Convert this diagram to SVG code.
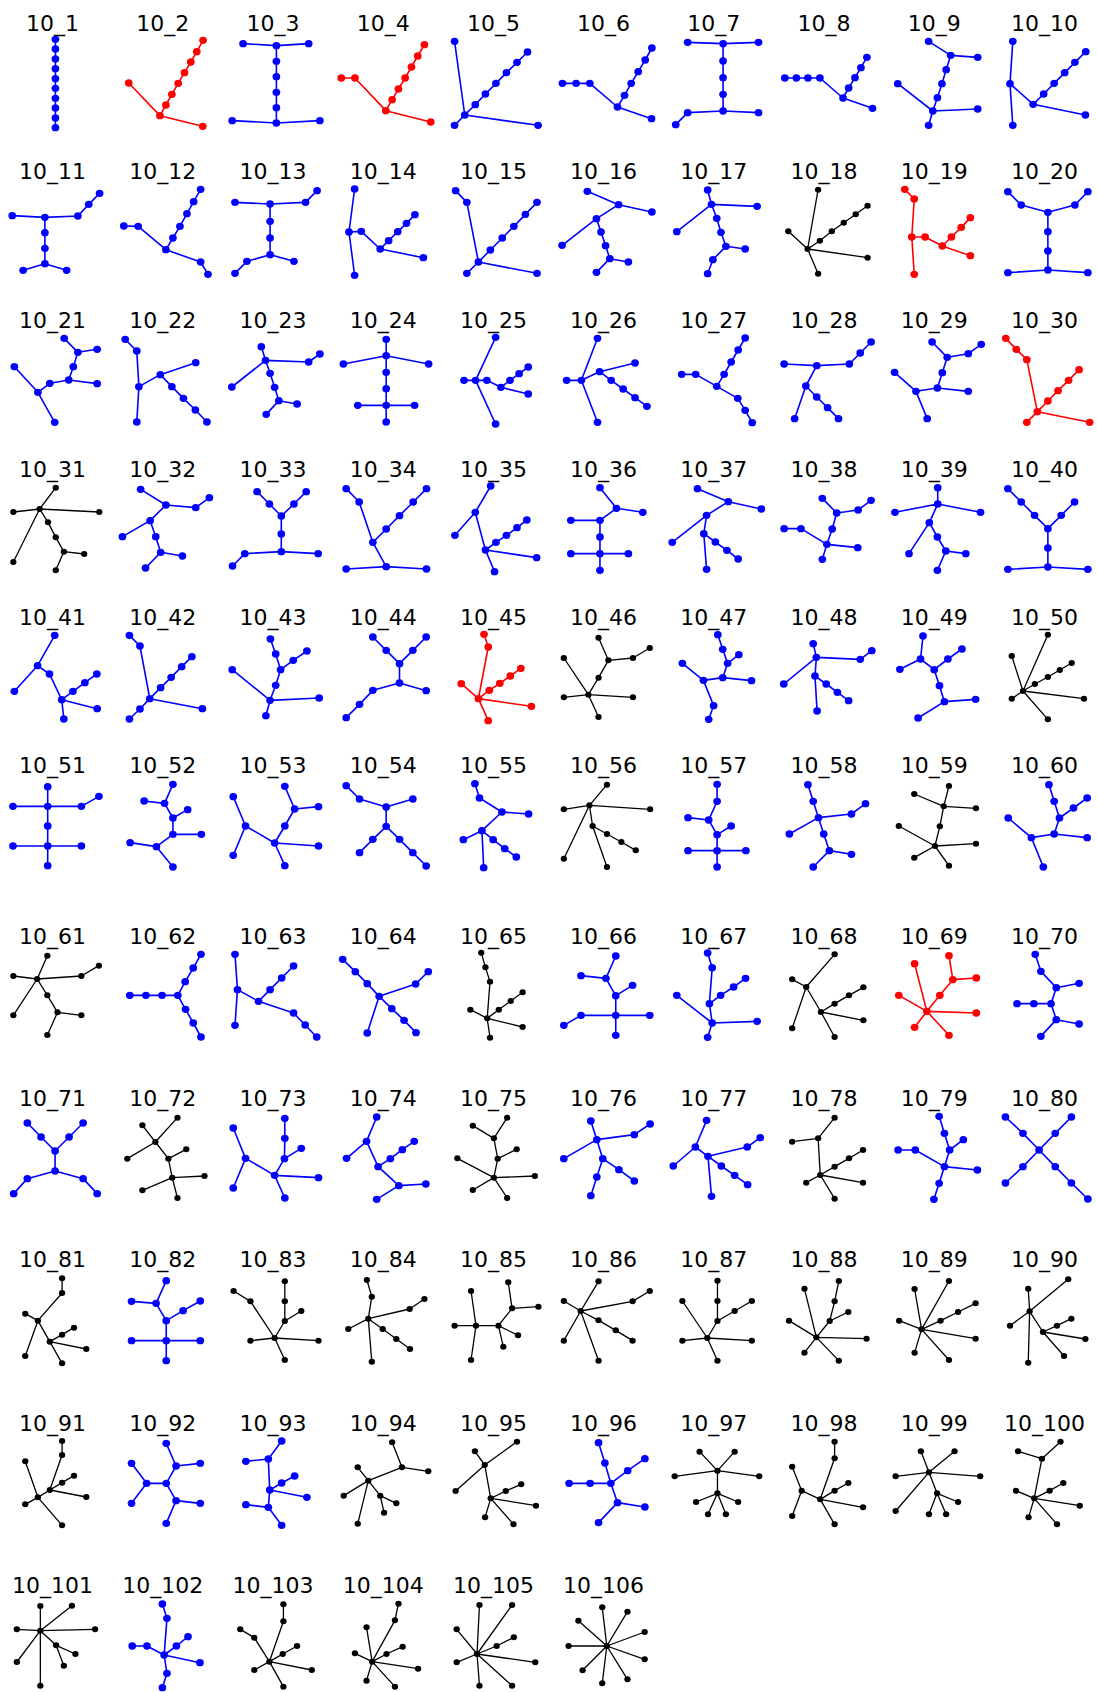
<svg xmlns="http://www.w3.org/2000/svg" width="1097" height="1692" viewBox="0 0 1097 1692">
<style>
text{font-family:"DejaVu Sans",sans-serif;font-size:22px;text-anchor:middle;fill:#000}
path{fill:none;stroke-width:1.6;vector-effect:non-scaling-stroke;stroke-linejoin:round;stroke-linecap:round}
.B path{stroke:#00f}.B circle{fill:#00f}
.R path{stroke:#f00}.R circle{fill:#f00}
.K path{stroke:#000;stroke-width:1.3}.K circle{fill:#000;r:9px}
</style>
<rect width="1097" height="1692" fill="#fff"/>
<g id="g10_1" class="B"><text x="52.6" y="30.7">10_1</text><g transform="translate(0 0) scale(.35075 .33333)"><path d="M158 118V383"/><circle cx="158" cy="118" r="11"/><circle cx="158" cy="147" r="11"/><circle cx="158" cy="177" r="11"/><circle cx="158" cy="206" r="11"/><circle cx="158" cy="236" r="11"/><circle cx="158" cy="265" r="11"/><circle cx="158" cy="295" r="11"/><circle cx="158" cy="324" r="11"/><circle cx="158" cy="354" r="11"/><circle cx="158" cy="383" r="11"/></g></g>
<g id="g10_2" class="R"><text x="162.8" y="30.7">10_2</text><g transform="translate(0 0) scale(.35075 .33333)"><path d="M367 249L456 347L578 379M456 347L473 315L490 283L508 250L526 218L544 186L561 155L579 121"/><circle cx="367" cy="249" r="11"/><circle cx="456" cy="347" r="11"/><circle cx="578" cy="379" r="11"/><circle cx="473" cy="315" r="11"/><circle cx="490" cy="283" r="11"/><circle cx="508" cy="250" r="11"/><circle cx="526" cy="218" r="11"/><circle cx="544" cy="186" r="11"/><circle cx="561" cy="155" r="11"/><circle cx="579" cy="121" r="11"/></g></g>
<g id="g10_3" class="B"><text x="273" y="30.7">10_3</text><g transform="translate(0 0) scale(.35075 .33333)"><path d="M693 131L788 137L880 131M788 137V369M662 362L788 369L912 362"/><circle cx="693" cy="131" r="11"/><circle cx="788" cy="137" r="11"/><circle cx="880" cy="131" r="11"/><circle cx="788" cy="184" r="11"/><circle cx="788" cy="230" r="11"/><circle cx="788" cy="277" r="11"/><circle cx="788" cy="323" r="11"/><circle cx="788" cy="369" r="11"/><circle cx="662" cy="362" r="11"/><circle cx="912" cy="362" r="11"/></g></g>
<g id="g10_4" class="R"><text x="383.2" y="30.7">10_4</text><g transform="translate(0 0) scale(.35075 .33333)"><path d="M973 234L1012 234L1100 332L1228 366M1100 332L1118 299L1136 267L1155 234L1173 201L1191 168L1210 134"/><circle cx="973" cy="234" r="11"/><circle cx="1012" cy="234" r="11"/><circle cx="1100" cy="332" r="11"/><circle cx="1228" cy="366" r="11"/><circle cx="1118" cy="299" r="11"/><circle cx="1136" cy="267" r="11"/><circle cx="1155" cy="234" r="11"/><circle cx="1173" cy="201" r="11"/><circle cx="1191" cy="168" r="11"/><circle cx="1210" cy="134" r="11"/></g></g>
<g id="g10_5" class="B"><text x="493.4" y="30.7">10_5</text><g transform="translate(0 0) scale(.35075 .33333)"><path d="M1296 124L1325 345L1296 376M1325 345L1534 376M1325 345L1355 314L1384 282L1414 250L1444 218L1474 187L1504 156"/><circle cx="1296" cy="124" r="11"/><circle cx="1325" cy="345" r="11"/><circle cx="1296" cy="376" r="11"/><circle cx="1534" cy="376" r="11"/><circle cx="1355" cy="314" r="11"/><circle cx="1384" cy="282" r="11"/><circle cx="1414" cy="250" r="11"/><circle cx="1444" cy="218" r="11"/><circle cx="1474" cy="187" r="11"/><circle cx="1504" cy="156" r="11"/></g></g>
<g id="g10_6" class="B"><text x="603.6" y="30.7">10_6</text><g transform="translate(547 0) scale(.35075 .33333)"><path d="M44 250L122 250L201 321L298 356M201 321L221 286L240 250L260 215L280 180L299 144"/><circle cx="44" cy="250" r="11"/><circle cx="83" cy="250" r="11"/><circle cx="122" cy="250" r="11"/><circle cx="201" cy="321" r="11"/><circle cx="298" cy="356" r="11"/><circle cx="221" cy="286" r="11"/><circle cx="240" cy="250" r="11"/><circle cx="260" cy="215" r="11"/><circle cx="280" cy="180" r="11"/><circle cx="299" cy="144" r="11"/></g></g>
<g id="g10_7" class="B"><text x="713.8" y="30.7">10_7</text><g transform="translate(547 0) scale(.35075 .33333)"><path d="M401 127L502 131L603 127M502 131V333M367 374L401 338L502 333L603 338"/><circle cx="401" cy="127" r="11"/><circle cx="502" cy="131" r="11"/><circle cx="603" cy="127" r="11"/><circle cx="502" cy="183" r="11"/><circle cx="502" cy="233" r="11"/><circle cx="502" cy="283" r="11"/><circle cx="502" cy="333" r="11"/><circle cx="401" cy="338" r="11"/><circle cx="367" cy="374" r="11"/><circle cx="603" cy="338" r="11"/></g></g>
<g id="g10_8" class="B"><text x="824" y="30.7">10_8</text><g transform="translate(547 0) scale(.35075 .33333)"><path d="M678 234L778 234L844 294L928 325M844 294L860 264L878 233L895 203L912 172"/><circle cx="678" cy="234" r="11"/><circle cx="711" cy="234" r="11"/><circle cx="744" cy="234" r="11"/><circle cx="778" cy="234" r="11"/><circle cx="844" cy="294" r="11"/><circle cx="928" cy="325" r="11"/><circle cx="860" cy="264" r="11"/><circle cx="878" cy="233" r="11"/><circle cx="895" cy="203" r="11"/><circle cx="912" cy="172" r="11"/></g></g>
<g id="g10_9" class="B"><text x="934.2" y="30.7">10_9</text><g transform="translate(547 0) scale(.35075 .33333)"><path d="M1088 124L1151 166L1228 172M1151 166L1138 209L1126 251L1113 293L1100 333L1000 251M1100 333L1228 327M1100 333L1088 376"/><circle cx="1088" cy="124" r="11"/><circle cx="1151" cy="166" r="11"/><circle cx="1228" cy="172" r="11"/><circle cx="1138" cy="209" r="11"/><circle cx="1126" cy="251" r="11"/><circle cx="1113" cy="293" r="11"/><circle cx="1100" cy="333" r="11"/><circle cx="1000" cy="251" r="11"/><circle cx="1228" cy="327" r="11"/><circle cx="1088" cy="376" r="11"/></g></g>
<g id="g10_10" class="B"><text x="1044.4" y="30.7">10_10</text><g transform="translate(547 0) scale(.35075 .33333)"><path d="M1328 124L1320 251L1328 376M1320 251L1386 313L1535 345M1386 313L1416 282L1446 250L1476 218L1505 187L1536 155"/><circle cx="1328" cy="124" r="11"/><circle cx="1320" cy="251" r="11"/><circle cx="1328" cy="376" r="11"/><circle cx="1386" cy="313" r="11"/><circle cx="1535" cy="345" r="11"/><circle cx="1416" cy="282" r="11"/><circle cx="1446" cy="250" r="11"/><circle cx="1476" cy="218" r="11"/><circle cx="1505" cy="187" r="11"/><circle cx="1536" cy="155" r="11"/></g></g>
<g id="g10_11" class="B"><text x="52.6" y="179">10_11</text><g transform="translate(0 0) scale(.35075 .33333)"><path d="M35 647L128 652L222 648L253 613L284 580M128 652V791L66 811M128 791L190 811"/><circle cx="35" cy="647" r="11"/><circle cx="128" cy="652" r="11"/><circle cx="222" cy="648" r="11"/><circle cx="253" cy="613" r="11"/><circle cx="284" cy="580" r="11"/><circle cx="128" cy="698" r="11"/><circle cx="128" cy="745" r="11"/><circle cx="128" cy="791" r="11"/><circle cx="66" cy="811" r="11"/><circle cx="190" cy="811" r="11"/></g></g>
<g id="g10_12" class="B"><text x="162.8" y="179">10_12</text><g transform="translate(0 0) scale(.35075 .33333)"><path d="M353 678L394 679L473 749L572 786L593 823M473 749L493 714L513 679L533 641L552 605L572 568"/><circle cx="353" cy="678" r="11"/><circle cx="394" cy="679" r="11"/><circle cx="473" cy="749" r="11"/><circle cx="493" cy="714" r="11"/><circle cx="513" cy="679" r="11"/><circle cx="533" cy="641" r="11"/><circle cx="552" cy="605" r="11"/><circle cx="572" cy="568" r="11"/><circle cx="572" cy="786" r="11"/><circle cx="593" cy="823" r="11"/></g></g>
<g id="g10_13" class="B"><text x="273" y="179">10_13</text><g transform="translate(0 0) scale(.35075 .33333)"><path d="M670 607L770 612L871 607L904 572M770 612V764L704 784L670 820M770 764L838 784"/><circle cx="670" cy="607" r="11"/><circle cx="770" cy="612" r="11"/><circle cx="871" cy="607" r="11"/><circle cx="904" cy="572" r="11"/><circle cx="770" cy="664" r="11"/><circle cx="770" cy="714" r="11"/><circle cx="770" cy="764" r="11"/><circle cx="704" cy="784" r="11"/><circle cx="670" cy="820" r="11"/><circle cx="838" cy="784" r="11"/></g></g>
<g id="g10_14" class="B"><text x="383.2" y="179">10_14</text><g transform="translate(0 0) scale(.35075 .33333)"><path d="M1011 567L995 696L1011 826M995 696L1030 694L1084 747L1207 773M1084 747L1108 722L1134 695L1159 670L1183 644"/><circle cx="1011" cy="567" r="11"/><circle cx="995" cy="696" r="11"/><circle cx="1011" cy="826" r="11"/><circle cx="1030" cy="694" r="11"/><circle cx="1084" cy="747" r="11"/><circle cx="1108" cy="722" r="11"/><circle cx="1134" cy="695" r="11"/><circle cx="1159" cy="670" r="11"/><circle cx="1183" cy="644" r="11"/><circle cx="1207" cy="773" r="11"/></g></g>
<g id="g10_15" class="B"><text x="493.4" y="179">10_15</text><g transform="translate(0 0) scale(.35075 .33333)"><path d="M1299 572L1331 607L1364 786L1331 820M1364 786L1531 820M1364 786L1398 750L1432 714L1465 679L1498 643L1531 607"/><circle cx="1299" cy="572" r="11"/><circle cx="1331" cy="607" r="11"/><circle cx="1364" cy="786" r="11"/><circle cx="1331" cy="820" r="11"/><circle cx="1531" cy="820" r="11"/><circle cx="1398" cy="750" r="11"/><circle cx="1432" cy="714" r="11"/><circle cx="1465" cy="679" r="11"/><circle cx="1498" cy="643" r="11"/><circle cx="1531" cy="607" r="11"/></g></g>
<g id="g10_16" class="B"><text x="603.6" y="179">10_16</text><g transform="translate(547 0) scale(.35075 .33333)"><path d="M115 574L204 614L299 636M204 614L141 656L43 736M141 656L154 696L167 737L179 776L232 786M179 776L141 817"/><circle cx="115" cy="574" r="11"/><circle cx="204" cy="614" r="11"/><circle cx="299" cy="636" r="11"/><circle cx="141" cy="656" r="11"/><circle cx="43" cy="736" r="11"/><circle cx="154" cy="696" r="11"/><circle cx="167" cy="737" r="11"/><circle cx="179" cy="776" r="11"/><circle cx="232" cy="786" r="11"/><circle cx="141" cy="817" r="11"/></g></g>
<g id="g10_17" class="B"><text x="713.8" y="179">10_17</text><g transform="translate(547 0) scale(.35075 .33333)"><path d="M458 570L469 613L599 619M469 613L370 695M469 613L484 655L496 697L510 739L565 747M510 739L473 779L458 821"/><circle cx="458" cy="570" r="11"/><circle cx="469" cy="613" r="11"/><circle cx="599" cy="619" r="11"/><circle cx="370" cy="695" r="11"/><circle cx="484" cy="655" r="11"/><circle cx="496" cy="697" r="11"/><circle cx="510" cy="739" r="11"/><circle cx="565" cy="747" r="11"/><circle cx="473" cy="779" r="11"/><circle cx="458" cy="821" r="11"/></g></g>
<g id="g10_18" class="K"><text x="824" y="179">10_18</text><g transform="translate(547 0) scale(.35075 .33333)"><path d="M773 569L743 747L688 694M743 747L914 773M743 747L773 821M743 747L778 722L812 694L846 668L880 643L914 617"/><circle cx="773" cy="569" r="9"/><circle cx="688" cy="694" r="9"/><circle cx="743" cy="747" r="9"/><circle cx="914" cy="773" r="9"/><circle cx="773" cy="821" r="9"/><circle cx="778" cy="722" r="9"/><circle cx="812" cy="694" r="9"/><circle cx="846" cy="668" r="9"/><circle cx="880" cy="643" r="9"/><circle cx="914" cy="617" r="9"/></g></g>
<g id="g10_19" class="R"><text x="934.2" y="179">10_19</text><g transform="translate(547 0) scale(.35075 .33333)"><path d="M1020 568L1047 597L1040 711L1047 823M1040 711L1078 711L1127 738L1207 767M1127 738L1153 711L1181 682L1207 653"/><circle cx="1020" cy="568" r="11"/><circle cx="1047" cy="597" r="11"/><circle cx="1040" cy="711" r="11"/><circle cx="1047" cy="823" r="11"/><circle cx="1078" cy="711" r="11"/><circle cx="1127" cy="738" r="11"/><circle cx="1207" cy="767" r="11"/><circle cx="1153" cy="711" r="11"/><circle cx="1181" cy="682" r="11"/><circle cx="1207" cy="653" r="11"/></g></g>
<g id="g10_20" class="B"><text x="1044.4" y="179">10_20</text><g transform="translate(547 0) scale(.35075 .33333)"><path d="M1314 575L1352 615L1428 637L1505 615L1542 575M1428 637V810M1314 818L1428 810L1542 818"/><circle cx="1314" cy="575" r="11"/><circle cx="1352" cy="615" r="11"/><circle cx="1428" cy="637" r="11"/><circle cx="1505" cy="615" r="11"/><circle cx="1542" cy="575" r="11"/><circle cx="1428" cy="695" r="11"/><circle cx="1428" cy="753" r="11"/><circle cx="1428" cy="810" r="11"/><circle cx="1314" cy="818" r="11"/><circle cx="1542" cy="818" r="11"/></g></g>
<g id="g10_21" class="B"><text x="52.6" y="328.3">10_21</text><g transform="translate(0 300) scale(.35075 .33333)"><path d="M183 115L222 157L277 148M222 157L209 200L196 240L277 251M196 240L142 250L108 277L41 200M108 277L156 367"/><circle cx="183" cy="115" r="11"/><circle cx="222" cy="157" r="11"/><circle cx="277" cy="148" r="11"/><circle cx="209" cy="200" r="11"/><circle cx="196" cy="240" r="11"/><circle cx="142" cy="250" r="11"/><circle cx="277" cy="251" r="11"/><circle cx="108" cy="277" r="11"/><circle cx="41" cy="200" r="11"/><circle cx="156" cy="367" r="11"/></g></g>
<g id="g10_22" class="B"><text x="162.8" y="328.3">10_22</text><g transform="translate(0 300) scale(.35075 .33333)"><path d="M357 118L390 153L396 260L390 366M396 260L457 224L558 188M457 224L490 260L523 295L557 330L590 366"/><circle cx="357" cy="118" r="11"/><circle cx="390" cy="153" r="11"/><circle cx="396" cy="260" r="11"/><circle cx="390" cy="366" r="11"/><circle cx="457" cy="224" r="11"/><circle cx="558" cy="188" r="11"/><circle cx="490" cy="260" r="11"/><circle cx="523" cy="295" r="11"/><circle cx="557" cy="330" r="11"/><circle cx="590" cy="366" r="11"/></g></g>
<g id="g10_23" class="B"><text x="273" y="328.3">10_23</text><g transform="translate(0 300) scale(.35075 .33333)"><path d="M745 140L757 181L880 186L912 162M757 181L661 261M757 181L770 220L783 262L795 302L847 312M795 302L759 343"/><circle cx="745" cy="140" r="11"/><circle cx="757" cy="181" r="11"/><circle cx="880" cy="186" r="11"/><circle cx="912" cy="162" r="11"/><circle cx="661" cy="261" r="11"/><circle cx="770" cy="220" r="11"/><circle cx="783" cy="262" r="11"/><circle cx="795" cy="302" r="11"/><circle cx="847" cy="312" r="11"/><circle cx="759" cy="343" r="11"/></g></g>
<g id="g10_24" class="B"><text x="383.2" y="328.3">10_24</text><g transform="translate(0 300) scale(.35075 .33333)"><path d="M1101 118V366M979 192L1101 167L1222 192M1020 316H1182"/><circle cx="1101" cy="118" r="11"/><circle cx="1101" cy="167" r="11"/><circle cx="979" cy="192" r="11"/><circle cx="1222" cy="192" r="11"/><circle cx="1101" cy="217" r="11"/><circle cx="1101" cy="266" r="11"/><circle cx="1101" cy="316" r="11"/><circle cx="1020" cy="316" r="11"/><circle cx="1182" cy="316" r="11"/><circle cx="1101" cy="366" r="11"/></g></g>
<g id="g10_25" class="B"><text x="493.4" y="328.3">10_25</text><g transform="translate(0 300) scale(.35075 .33333)"><path d="M1413 112L1356 241L1413 372M1323 241L1388 241L1428 262L1506 282M1428 262L1454 241L1480 221L1506 201"/><circle cx="1413" cy="112" r="11"/><circle cx="1356" cy="241" r="11"/><circle cx="1323" cy="241" r="11"/><circle cx="1413" cy="372" r="11"/><circle cx="1388" cy="241" r="11"/><circle cx="1428" cy="262" r="11"/><circle cx="1506" cy="282" r="11"/><circle cx="1454" cy="241" r="11"/><circle cx="1480" cy="221" r="11"/><circle cx="1506" cy="201" r="11"/></g></g>
<g id="g10_26" class="B"><text x="603.6" y="328.3">10_26</text><g transform="translate(547 300) scale(.35075 .33333)"><path d="M144 115L98 241L144 367M56 241L98 241L150 215L251 189M150 215L183 241L217 267L251 293L285 319"/><circle cx="144" cy="115" r="11"/><circle cx="98" cy="241" r="11"/><circle cx="56" cy="241" r="11"/><circle cx="144" cy="367" r="11"/><circle cx="150" cy="215" r="11"/><circle cx="251" cy="189" r="11"/><circle cx="183" cy="241" r="11"/><circle cx="217" cy="267" r="11"/><circle cx="251" cy="293" r="11"/><circle cx="285" cy="319" r="11"/></g></g>
<g id="g10_27" class="B"><text x="713.8" y="328.3">10_27</text><g transform="translate(547 300) scale(.35075 .33333)"><path d="M384 223L424 223L484 259L505 223L525 186L545 150L565 114M484 259L544 295L565 331L585 368"/><circle cx="384" cy="223" r="11"/><circle cx="424" cy="223" r="11"/><circle cx="484" cy="259" r="11"/><circle cx="505" cy="223" r="11"/><circle cx="525" cy="186" r="11"/><circle cx="545" cy="150" r="11"/><circle cx="565" cy="114" r="11"/><circle cx="544" cy="295" r="11"/><circle cx="565" cy="331" r="11"/><circle cx="585" cy="368" r="11"/></g></g>
<g id="g10_28" class="B"><text x="824" y="328.3">10_28</text><g transform="translate(547 300) scale(.35075 .33333)"><path d="M676 192L769 197L862 192L893 159L924 126M769 197L738 258L706 356M738 258L769 291L800 323L831 356"/><circle cx="676" cy="192" r="11"/><circle cx="769" cy="197" r="11"/><circle cx="862" cy="192" r="11"/><circle cx="893" cy="159" r="11"/><circle cx="924" cy="126" r="11"/><circle cx="738" cy="258" r="11"/><circle cx="706" cy="356" r="11"/><circle cx="769" cy="291" r="11"/><circle cx="800" cy="323" r="11"/><circle cx="831" cy="356" r="11"/></g></g>
<g id="g10_29" class="B"><text x="934.2" y="328.3">10_29</text><g transform="translate(547 300) scale(.35075 .33333)"><path d="M1098 126L1141 172L1201 161L1238 133M1141 172L1127 218L1113 264L1201 274M1113 264L1052 274L991 217M1052 274L1084 356"/><circle cx="1098" cy="126" r="11"/><circle cx="1141" cy="172" r="11"/><circle cx="1201" cy="161" r="11"/><circle cx="1238" cy="133" r="11"/><circle cx="1127" cy="218" r="11"/><circle cx="1113" cy="264" r="11"/><circle cx="1201" cy="274" r="11"/><circle cx="1052" cy="274" r="11"/><circle cx="991" cy="217" r="11"/><circle cx="1084" cy="356" r="11"/></g></g>
<g id="g10_30" class="R"><text x="1044.4" y="328.3">10_30</text><g transform="translate(547 300) scale(.35075 .33333)"><path d="M1308 115L1338 148L1368 179L1398 335L1368 367M1398 335L1547 367M1398 335L1428 303L1457 272L1487 241L1517 209"/><circle cx="1308" cy="115" r="11"/><circle cx="1338" cy="148" r="11"/><circle cx="1368" cy="179" r="11"/><circle cx="1398" cy="335" r="11"/><circle cx="1368" cy="367" r="11"/><circle cx="1547" cy="367" r="11"/><circle cx="1428" cy="303" r="11"/><circle cx="1457" cy="272" r="11"/><circle cx="1487" cy="241" r="11"/><circle cx="1517" cy="209" r="11"/></g></g>
<g id="g10_31" class="K"><text x="52.6" y="476.7">10_31</text><g transform="translate(0 300) scale(.35075 .33333)"><path d="M159 563L113 627L38 636M113 627L283 636M113 627L38 786M113 627L137 667L159 712L182 755L240 762M182 755L159 811"/><circle cx="159" cy="563" r="9"/><circle cx="113" cy="627" r="9"/><circle cx="38" cy="636" r="9"/><circle cx="283" cy="636" r="9"/><circle cx="38" cy="786" r="9"/><circle cx="137" cy="667" r="9"/><circle cx="159" cy="712" r="9"/><circle cx="182" cy="755" r="9"/><circle cx="240" cy="762" r="9"/><circle cx="159" cy="811" r="9"/></g></g>
<g id="g10_32" class="B"><text x="162.8" y="476.7">10_32</text><g transform="translate(0 300) scale(.35075 .33333)"><path d="M401 568L473 615L558 623L597 593M473 615L428 662L349 710M428 662L444 710L458 757L520 768M458 757L415 804"/><circle cx="401" cy="568" r="11"/><circle cx="473" cy="615" r="11"/><circle cx="558" cy="623" r="11"/><circle cx="597" cy="593" r="11"/><circle cx="428" cy="662" r="11"/><circle cx="349" cy="710" r="11"/><circle cx="444" cy="710" r="11"/><circle cx="458" cy="757" r="11"/><circle cx="520" cy="768" r="11"/><circle cx="415" cy="804" r="11"/></g></g>
<g id="g10_33" class="B"><text x="273" y="476.7">10_33</text><g transform="translate(0 300) scale(.35075 .33333)"><path d="M733 575L768 612L802 648L838 612L873 575M802 648V755L698 761L663 798M802 755L907 761"/><circle cx="733" cy="575" r="11"/><circle cx="768" cy="612" r="11"/><circle cx="802" cy="648" r="11"/><circle cx="838" cy="612" r="11"/><circle cx="873" cy="575" r="11"/><circle cx="802" cy="702" r="11"/><circle cx="802" cy="755" r="11"/><circle cx="698" cy="761" r="11"/><circle cx="663" cy="798" r="11"/><circle cx="907" cy="761" r="11"/></g></g>
<g id="g10_34" class="B"><text x="383.2" y="476.7">10_34</text><g transform="translate(0 300) scale(.35075 .33333)"><path d="M987 566L1024 606L1063 727L1101 687L1139 647L1178 606L1216 566M1063 727L1101 800L987 807M1101 800L1216 807"/><circle cx="987" cy="566" r="11"/><circle cx="1024" cy="606" r="11"/><circle cx="1063" cy="727" r="11"/><circle cx="1101" cy="687" r="11"/><circle cx="1139" cy="647" r="11"/><circle cx="1178" cy="606" r="11"/><circle cx="1216" cy="566" r="11"/><circle cx="1101" cy="800" r="11"/><circle cx="987" cy="807" r="11"/><circle cx="1216" cy="807" r="11"/></g></g>
<g id="g10_35" class="B"><text x="493.4" y="476.7">10_35</text><g transform="translate(0 300) scale(.35075 .33333)"><path d="M1399 558L1355 637L1297 706M1355 637L1384 750L1414 727L1444 706L1474 683L1502 660M1384 750L1530 773M1384 750L1410 815"/><circle cx="1399" cy="558" r="11"/><circle cx="1355" cy="637" r="11"/><circle cx="1297" cy="706" r="11"/><circle cx="1384" cy="750" r="11"/><circle cx="1414" cy="727" r="11"/><circle cx="1444" cy="706" r="11"/><circle cx="1474" cy="683" r="11"/><circle cx="1502" cy="660" r="11"/><circle cx="1530" cy="773" r="11"/><circle cx="1410" cy="815" r="11"/></g></g>
<g id="g10_36" class="B"><text x="603.6" y="476.7">10_36</text><g transform="translate(547 300) scale(.35075 .33333)"><path d="M151 563L198 625L273 637M198 625L151 661L68 661M151 661V811M68 761H232"/><circle cx="151" cy="563" r="11"/><circle cx="198" cy="625" r="11"/><circle cx="273" cy="637" r="11"/><circle cx="151" cy="661" r="11"/><circle cx="68" cy="661" r="11"/><circle cx="151" cy="711" r="11"/><circle cx="151" cy="761" r="11"/><circle cx="68" cy="761" r="11"/><circle cx="232" cy="761" r="11"/><circle cx="151" cy="811" r="11"/></g></g>
<g id="g10_37" class="B"><text x="713.8" y="476.7">10_37</text><g transform="translate(547 300) scale(.35075 .33333)"><path d="M429 566L517 605L611 627M517 605L455 646L357 727M455 646L447 701L455 808M447 701L480 726L513 751L545 777"/><circle cx="429" cy="566" r="11"/><circle cx="517" cy="605" r="11"/><circle cx="611" cy="627" r="11"/><circle cx="455" cy="646" r="11"/><circle cx="357" cy="727" r="11"/><circle cx="447" cy="701" r="11"/><circle cx="480" cy="726" r="11"/><circle cx="513" cy="751" r="11"/><circle cx="545" cy="777" r="11"/><circle cx="455" cy="808" r="11"/></g></g>
<g id="g10_38" class="B"><text x="824" y="476.7">10_38</text><g transform="translate(547 300) scale(.35075 .33333)"><path d="M785 595L826 639L887 630L924 601M826 639L813 687L798 733L886 743M798 733L724 686L676 686M798 733L785 778"/><circle cx="785" cy="595" r="11"/><circle cx="826" cy="639" r="11"/><circle cx="887" cy="630" r="11"/><circle cx="924" cy="601" r="11"/><circle cx="813" cy="687" r="11"/><circle cx="798" cy="733" r="11"/><circle cx="886" cy="743" r="11"/><circle cx="724" cy="686" r="11"/><circle cx="676" cy="686" r="11"/><circle cx="785" cy="778" r="11"/></g></g>
<g id="g10_39" class="B"><text x="934.2" y="476.7">10_39</text><g transform="translate(547 300) scale(.35075 .33333)"><path d="M1114 563L1114 612L992 637M1114 612L1236 637M1114 612L1090 668L1032 761M1090 668L1113 711L1137 753L1194 761M1137 753L1113 811"/><circle cx="1114" cy="563" r="11"/><circle cx="1114" cy="612" r="11"/><circle cx="992" cy="637" r="11"/><circle cx="1236" cy="637" r="11"/><circle cx="1090" cy="668" r="11"/><circle cx="1032" cy="761" r="11"/><circle cx="1113" cy="711" r="11"/><circle cx="1137" cy="753" r="11"/><circle cx="1194" cy="761" r="11"/><circle cx="1113" cy="811" r="11"/></g></g>
<g id="g10_40" class="B"><text x="1044.4" y="476.7">10_40</text><g transform="translate(547 300) scale(.35075 .33333)"><path d="M1314 566L1352 606L1390 646L1428 686L1466 646L1504 606M1428 686V801L1314 808M1428 801L1542 808"/><circle cx="1314" cy="566" r="11"/><circle cx="1352" cy="606" r="11"/><circle cx="1390" cy="646" r="11"/><circle cx="1428" cy="686" r="11"/><circle cx="1466" cy="646" r="11"/><circle cx="1504" cy="606" r="11"/><circle cx="1428" cy="744" r="11"/><circle cx="1428" cy="801" r="11"/><circle cx="1314" cy="808" r="11"/><circle cx="1542" cy="808" r="11"/></g></g>
<g id="g10_41" class="B"><text x="52.6" y="625.3">10_41</text><g transform="translate(0 600) scale(.35075 .33333)"><path d="M156 106L107 197L41 274M107 197L141 222L176 299L208 274L242 248L276 222M176 299L277 326M176 299L182 357"/><circle cx="156" cy="106" r="11"/><circle cx="107" cy="197" r="11"/><circle cx="41" cy="274" r="11"/><circle cx="141" cy="222" r="11"/><circle cx="176" cy="299" r="11"/><circle cx="208" cy="274" r="11"/><circle cx="242" cy="248" r="11"/><circle cx="276" cy="222" r="11"/><circle cx="277" cy="326" r="11"/><circle cx="182" cy="357" r="11"/></g></g>
<g id="g10_42" class="B"><text x="162.8" y="625.3">10_42</text><g transform="translate(0 600) scale(.35075 .33333)"><path d="M369 106L399 138L427 296L399 327L369 357M427 296L458 263L488 232L518 200L547 170M427 296L577 326"/><circle cx="369" cy="106" r="11"/><circle cx="399" cy="138" r="11"/><circle cx="427" cy="296" r="11"/><circle cx="399" cy="327" r="11"/><circle cx="369" cy="357" r="11"/><circle cx="458" cy="263" r="11"/><circle cx="488" cy="232" r="11"/><circle cx="518" cy="200" r="11"/><circle cx="547" cy="170" r="11"/><circle cx="577" cy="326" r="11"/></g></g>
<g id="g10_43" class="B"><text x="273" y="625.3">10_43</text><g transform="translate(0 600) scale(.35075 .33333)"><path d="M771 117L786 162L800 209L836 181L875 153M800 209L786 256L770 301L662 209M770 301L910 294M770 301L758 347"/><circle cx="771" cy="117" r="11"/><circle cx="786" cy="162" r="11"/><circle cx="800" cy="209" r="11"/><circle cx="836" cy="181" r="11"/><circle cx="875" cy="153" r="11"/><circle cx="786" cy="256" r="11"/><circle cx="770" cy="301" r="11"/><circle cx="662" cy="209" r="11"/><circle cx="910" cy="294" r="11"/><circle cx="758" cy="347" r="11"/></g></g>
<g id="g10_44" class="B"><text x="383.2" y="625.3">10_44</text><g transform="translate(0 600) scale(.35075 .33333)"><path d="M1063 111L1101 151L1139 191L1177 151L1215 111M1139 191L1139 249L1215 272M1139 249L1063 271L1025 313L987 353"/><circle cx="1063" cy="111" r="11"/><circle cx="1101" cy="151" r="11"/><circle cx="1139" cy="191" r="11"/><circle cx="1177" cy="151" r="11"/><circle cx="1215" cy="111" r="11"/><circle cx="1139" cy="249" r="11"/><circle cx="1215" cy="272" r="11"/><circle cx="1063" cy="271" r="11"/><circle cx="1025" cy="313" r="11"/><circle cx="987" cy="353" r="11"/></g></g>
<g id="g10_45" class="R"><text x="493.4" y="625.3">10_45</text><g transform="translate(0 600) scale(.35075 .33333)"><path d="M1380 103L1392 141L1364 296L1315 251M1364 296L1395 271L1425 250L1455 228L1485 205M1364 296L1515 319M1364 296L1392 362"/><circle cx="1380" cy="103" r="11"/><circle cx="1392" cy="141" r="11"/><circle cx="1364" cy="296" r="11"/><circle cx="1315" cy="251" r="11"/><circle cx="1395" cy="271" r="11"/><circle cx="1425" cy="250" r="11"/><circle cx="1455" cy="228" r="11"/><circle cx="1485" cy="205" r="11"/><circle cx="1515" cy="319" r="11"/><circle cx="1392" cy="362" r="11"/></g></g>
<g id="g10_46" class="K"><text x="603.6" y="625.3">10_46</text><g transform="translate(547 600) scale(.35075 .33333)"><path d="M147 113L175 181L245 174L293 144M175 181L147 233L118 284L48 174M118 284L48 292M118 284L245 292M118 284L147 351"/><circle cx="147" cy="113" r="9"/><circle cx="175" cy="181" r="9"/><circle cx="245" cy="174" r="9"/><circle cx="293" cy="144" r="9"/><circle cx="147" cy="233" r="9"/><circle cx="118" cy="284" r="9"/><circle cx="48" cy="174" r="9"/><circle cx="48" cy="292" r="9"/><circle cx="245" cy="292" r="9"/><circle cx="147" cy="351" r="9"/></g></g>
<g id="g10_47" class="B"><text x="713.8" y="625.3">10_47</text><g transform="translate(547 600) scale(.35075 .33333)"><path d="M487 104L501 148L515 190L547 164M515 190L501 233L583 242M501 233L446 241L386 190M446 241L475 317L461 358"/><circle cx="487" cy="104" r="11"/><circle cx="501" cy="148" r="11"/><circle cx="515" cy="190" r="11"/><circle cx="547" cy="164" r="11"/><circle cx="501" cy="233" r="11"/><circle cx="583" cy="242" r="11"/><circle cx="446" cy="241" r="11"/><circle cx="386" cy="190" r="11"/><circle cx="475" cy="317" r="11"/><circle cx="461" cy="358" r="11"/></g></g>
<g id="g10_48" class="B"><text x="824" y="625.3">10_48</text><g transform="translate(547 600) scale(.35075 .33333)"><path d="M759 131L768 172L893 178L926 152M768 172L675 252M768 172L764 228L770 333M764 228L796 252L828 277L860 302"/><circle cx="759" cy="131" r="11"/><circle cx="768" cy="172" r="11"/><circle cx="893" cy="178" r="11"/><circle cx="926" cy="152" r="11"/><circle cx="675" cy="252" r="11"/><circle cx="764" cy="228" r="11"/><circle cx="796" cy="252" r="11"/><circle cx="828" cy="277" r="11"/><circle cx="860" cy="302" r="11"/><circle cx="770" cy="333" r="11"/></g></g>
<g id="g10_49" class="B"><text x="934.2" y="625.3">10_49</text><g transform="translate(547 600) scale(.35075 .33333)"><path d="M1072 108L1065 177L1006 208M1065 177L1104 209L1143 177L1183 147M1104 209L1119 257L1133 305L1222 298M1133 305L1058 354"/><circle cx="1072" cy="108" r="11"/><circle cx="1065" cy="177" r="11"/><circle cx="1006" cy="208" r="11"/><circle cx="1104" cy="209" r="11"/><circle cx="1143" cy="177" r="11"/><circle cx="1183" cy="147" r="11"/><circle cx="1119" cy="257" r="11"/><circle cx="1133" cy="305" r="11"/><circle cx="1222" cy="298" r="11"/><circle cx="1058" cy="354" r="11"/></g></g>
<g id="g10_50" class="K"><text x="1044.4" y="625.3">10_50</text><g transform="translate(547 600) scale(.35075 .33333)"><path d="M1428 104L1357 273L1325 168M1357 273L1325 296M1357 273L1531 296M1357 273L1428 358M1357 273L1391 252L1428 231L1462 210L1496 189"/><circle cx="1428" cy="104" r="9"/><circle cx="1325" cy="168" r="9"/><circle cx="1357" cy="273" r="9"/><circle cx="1325" cy="296" r="9"/><circle cx="1531" cy="296" r="9"/><circle cx="1428" cy="358" r="9"/><circle cx="1391" cy="252" r="9"/><circle cx="1428" cy="231" r="9"/><circle cx="1462" cy="210" r="9"/><circle cx="1496" cy="189" r="9"/></g></g>
<g id="g10_51" class="B"><text x="52.6" y="773.3">10_51</text><g transform="translate(0 600) scale(.35075 .33333)"><path d="M136 560V797M37 619L232 619L282 589M37 738H232"/><circle cx="136" cy="560" r="11"/><circle cx="136" cy="619" r="11"/><circle cx="37" cy="619" r="11"/><circle cx="232" cy="619" r="11"/><circle cx="282" cy="589" r="11"/><circle cx="136" cy="678" r="11"/><circle cx="136" cy="738" r="11"/><circle cx="37" cy="738" r="11"/><circle cx="232" cy="738" r="11"/><circle cx="136" cy="797" r="11"/></g></g>
<g id="g10_52" class="B"><text x="162.8" y="773.3">10_52</text><g transform="translate(0 600) scale(.35075 .33333)"><path d="M493 553L469 610L411 603M469 610L493 654L535 629M493 654L493 703L574 703M493 703L446 740L371 728M446 740L493 801"/><circle cx="493" cy="553" r="11"/><circle cx="469" cy="610" r="11"/><circle cx="411" cy="603" r="11"/><circle cx="493" cy="654" r="11"/><circle cx="535" cy="629" r="11"/><circle cx="493" cy="703" r="11"/><circle cx="574" cy="703" r="11"/><circle cx="446" cy="740" r="11"/><circle cx="371" cy="728" r="11"/><circle cx="493" cy="801" r="11"/></g></g>
<g id="g10_53" class="B"><text x="273" y="773.3">10_53</text><g transform="translate(0 600) scale(.35075 .33333)"><path d="M812 559L840 627L908 620M840 627L812 678L783 729L908 738M783 729L812 797M783 729L700 678L665 590M700 678L665 766"/><circle cx="812" cy="559" r="11"/><circle cx="840" cy="627" r="11"/><circle cx="908" cy="620" r="11"/><circle cx="812" cy="678" r="11"/><circle cx="783" cy="729" r="11"/><circle cx="908" cy="738" r="11"/><circle cx="812" cy="797" r="11"/><circle cx="700" cy="678" r="11"/><circle cx="665" cy="590" r="11"/><circle cx="665" cy="766" r="11"/></g></g>
<g id="g10_54" class="B"><text x="383.2" y="773.3">10_54</text><g transform="translate(0 600) scale(.35075 .33333)"><path d="M987 557L1025 597L1101 621L1177 597M1101 621V679L1063 718L1025 758M1101 679L1139 718L1177 758L1215 798"/><circle cx="987" cy="557" r="11"/><circle cx="1025" cy="597" r="11"/><circle cx="1101" cy="621" r="11"/><circle cx="1177" cy="597" r="11"/><circle cx="1101" cy="679" r="11"/><circle cx="1063" cy="718" r="11"/><circle cx="1025" cy="758" r="11"/><circle cx="1139" cy="718" r="11"/><circle cx="1177" cy="758" r="11"/><circle cx="1215" cy="798" r="11"/></g></g>
<g id="g10_55" class="B"><text x="493.4" y="773.3">10_55</text><g transform="translate(0 600) scale(.35075 .33333)"><path d="M1354 551L1367 594L1431 636L1507 642M1431 636L1374 692L1321 719M1374 692L1379 803M1374 692L1406 719L1439 746L1472 771"/><circle cx="1354" cy="551" r="11"/><circle cx="1367" cy="594" r="11"/><circle cx="1431" cy="636" r="11"/><circle cx="1507" cy="642" r="11"/><circle cx="1374" cy="692" r="11"/><circle cx="1321" cy="719" r="11"/><circle cx="1379" cy="803" r="11"/><circle cx="1406" cy="719" r="11"/><circle cx="1439" cy="746" r="11"/><circle cx="1472" cy="771" r="11"/></g></g>
<g id="g10_56" class="K"><text x="603.6" y="773.3">10_56</text><g transform="translate(547 600) scale(.35075 .33333)"><path d="M171 554L121 616L48 628M121 616L294 628M121 616L48 776M121 616L130 678L171 702L212 726L253 751M130 678L171 801"/><circle cx="171" cy="554" r="9"/><circle cx="121" cy="616" r="9"/><circle cx="48" cy="628" r="9"/><circle cx="294" cy="628" r="9"/><circle cx="48" cy="776" r="9"/><circle cx="130" cy="678" r="9"/><circle cx="171" cy="702" r="9"/><circle cx="212" cy="726" r="9"/><circle cx="253" cy="751" r="9"/><circle cx="171" cy="801" r="9"/></g></g>
<g id="g10_57" class="B"><text x="713.8" y="773.3">10_57</text><g transform="translate(547 600) scale(.35075 .33333)"><path d="M485 553L485 604L461 660L402 653M461 660L485 704L525 678M485 704V801M402 752H567"/><circle cx="485" cy="553" r="11"/><circle cx="485" cy="604" r="11"/><circle cx="461" cy="660" r="11"/><circle cx="402" cy="653" r="11"/><circle cx="485" cy="704" r="11"/><circle cx="525" cy="678" r="11"/><circle cx="485" cy="752" r="11"/><circle cx="402" cy="752" r="11"/><circle cx="567" cy="752" r="11"/><circle cx="485" cy="801" r="11"/></g></g>
<g id="g10_58" class="B"><text x="824" y="773.3">10_58</text><g transform="translate(547 600) scale(.35075 .33333)"><path d="M744 554L759 604L774 653L868 642L908 611M774 653L691 702M774 653L789 702L805 752L868 763M805 752L759 801"/><circle cx="744" cy="554" r="11"/><circle cx="759" cy="604" r="11"/><circle cx="774" cy="653" r="11"/><circle cx="868" cy="642" r="11"/><circle cx="908" cy="611" r="11"/><circle cx="691" cy="702" r="11"/><circle cx="789" cy="702" r="11"/><circle cx="805" cy="752" r="11"/><circle cx="868" cy="763" r="11"/><circle cx="759" cy="801" r="11"/></g></g>
<g id="g10_59" class="K"><text x="934.2" y="773.3">10_59</text><g transform="translate(547 600) scale(.35075 .33333)"><path d="M1146 558L1131 619L1047 582M1131 619L1223 625M1131 619L1120 679L1106 738L1003 678M1106 738L1223 731M1106 738L1047 773M1106 738L1146 797"/><circle cx="1146" cy="558" r="9"/><circle cx="1131" cy="619" r="9"/><circle cx="1047" cy="582" r="9"/><circle cx="1223" cy="625" r="9"/><circle cx="1120" cy="679" r="9"/><circle cx="1106" cy="738" r="9"/><circle cx="1003" cy="678" r="9"/><circle cx="1223" cy="731" r="9"/><circle cx="1047" cy="773" r="9"/><circle cx="1146" cy="797" r="9"/></g></g>
<g id="g10_60" class="B"><text x="1044.4" y="773.3">10_60</text><g transform="translate(547 600) scale(.35075 .33333)"><path d="M1431 554L1446 604L1461 654L1501 624L1540 594M1461 654L1446 702L1540 713M1446 702L1381 713L1315 654M1381 713L1415 801"/><circle cx="1431" cy="554" r="11"/><circle cx="1446" cy="604" r="11"/><circle cx="1461" cy="654" r="11"/><circle cx="1501" cy="624" r="11"/><circle cx="1540" cy="594" r="11"/><circle cx="1446" cy="702" r="11"/><circle cx="1540" cy="713" r="11"/><circle cx="1381" cy="713" r="11"/><circle cx="1315" cy="654" r="11"/><circle cx="1415" cy="801" r="11"/></g></g>
<g id="g10_61" class="K"><text x="52.6" y="943.7">10_61</text><g transform="translate(0 912) scale(.35075 .33333)"><path d="M135 131L106 201L38 192M106 201L232 192L282 161M106 201L38 310M106 201L135 250L164 301L232 310M164 301L135 369"/><circle cx="135" cy="131" r="9"/><circle cx="106" cy="201" r="9"/><circle cx="38" cy="192" r="9"/><circle cx="232" cy="192" r="9"/><circle cx="282" cy="161" r="9"/><circle cx="38" cy="310" r="9"/><circle cx="135" cy="250" r="9"/><circle cx="164" cy="301" r="9"/><circle cx="232" cy="310" r="9"/><circle cx="135" cy="369" r="9"/></g></g>
<g id="g10_62" class="B"><text x="162.8" y="943.7">10_62</text><g transform="translate(0 912) scale(.35075 .33333)"><path d="M370 250H507L528 209L551 168L573 127M507 250L529 292L551 333L573 375"/><circle cx="370" cy="250" r="11"/><circle cx="416" cy="250" r="11"/><circle cx="462" cy="250" r="11"/><circle cx="507" cy="250" r="11"/><circle cx="528" cy="209" r="11"/><circle cx="551" cy="168" r="11"/><circle cx="573" cy="127" r="11"/><circle cx="529" cy="292" r="11"/><circle cx="551" cy="333" r="11"/><circle cx="573" cy="375" r="11"/></g></g>
<g id="g10_63" class="B"><text x="273" y="943.7">10_63</text><g transform="translate(0 912) scale(.35075 .33333)"><path d="M670 127L677 233L670 340M677 233L737 268L770 233L803 198L837 162M737 268L837 303L870 339L903 375"/><circle cx="670" cy="127" r="11"/><circle cx="677" cy="233" r="11"/><circle cx="670" cy="340" r="11"/><circle cx="737" cy="268" r="11"/><circle cx="770" cy="233" r="11"/><circle cx="803" cy="198" r="11"/><circle cx="837" cy="162" r="11"/><circle cx="837" cy="303" r="11"/><circle cx="870" cy="339" r="11"/><circle cx="903" cy="375" r="11"/></g></g>
<g id="g10_64" class="B"><text x="383.2" y="943.7">10_64</text><g transform="translate(0 912) scale(.35075 .33333)"><path d="M977 142L1013 179L1047 215L1081 253L1185 216L1221 179M1081 253L1047 363M1081 253L1117 290L1152 325L1186 362"/><circle cx="977" cy="142" r="11"/><circle cx="1013" cy="179" r="11"/><circle cx="1047" cy="215" r="11"/><circle cx="1081" cy="253" r="11"/><circle cx="1185" cy="216" r="11"/><circle cx="1221" cy="179" r="11"/><circle cx="1047" cy="363" r="11"/><circle cx="1117" cy="290" r="11"/><circle cx="1152" cy="325" r="11"/><circle cx="1186" cy="362" r="11"/></g></g>
<g id="g10_65" class="K"><text x="493.4" y="943.7">10_65</text><g transform="translate(0 912) scale(.35075 .33333)"><path d="M1372 122L1384 166L1397 209L1389 319L1341 293M1389 319L1422 293L1456 267L1490 241M1389 319L1490 345M1389 319L1397 377"/><circle cx="1372" cy="122" r="9"/><circle cx="1384" cy="166" r="9"/><circle cx="1397" cy="209" r="9"/><circle cx="1389" cy="319" r="9"/><circle cx="1341" cy="293" r="9"/><circle cx="1422" cy="293" r="9"/><circle cx="1456" cy="267" r="9"/><circle cx="1490" cy="241" r="9"/><circle cx="1490" cy="345" r="9"/><circle cx="1397" cy="377" r="9"/></g></g>
<g id="g10_66" class="B"><text x="603.6" y="943.7">10_66</text><g transform="translate(547 912) scale(.35075 .33333)"><path d="M196 132L168 199L97 191M168 199L196 251L244 220M196 251V370M48 340L97 310H293"/><circle cx="196" cy="132" r="11"/><circle cx="168" cy="199" r="11"/><circle cx="97" cy="191" r="11"/><circle cx="196" cy="251" r="11"/><circle cx="244" cy="220" r="11"/><circle cx="196" cy="310" r="11"/><circle cx="97" cy="310" r="11"/><circle cx="48" cy="340" r="11"/><circle cx="293" cy="310" r="11"/><circle cx="196" cy="370" r="11"/></g></g>
<g id="g10_67" class="B"><text x="713.8" y="943.7">10_67</text><g transform="translate(547 912) scale(.35075 .33333)"><path d="M458 123L471 167L463 275L495 250L532 225L566 199M463 275L471 333L370 250M471 333L599 328M471 333L458 376"/><circle cx="458" cy="123" r="11"/><circle cx="471" cy="167" r="11"/><circle cx="463" cy="275" r="11"/><circle cx="495" cy="250" r="11"/><circle cx="532" cy="225" r="11"/><circle cx="566" cy="199" r="11"/><circle cx="471" cy="333" r="11"/><circle cx="370" cy="250" r="11"/><circle cx="599" cy="328" r="11"/><circle cx="458" cy="376" r="11"/></g></g>
<g id="g10_68" class="K"><text x="824" y="943.7">10_68</text><g transform="translate(547 912) scale(.35075 .33333)"><path d="M820 127L739 225L699 202M739 225L699 349M739 225L781 300L820 275L861 250L902 226M781 300L902 325M781 300L820 375"/><circle cx="820" cy="127" r="9"/><circle cx="739" cy="225" r="9"/><circle cx="699" cy="202" r="9"/><circle cx="699" cy="349" r="9"/><circle cx="781" cy="300" r="9"/><circle cx="820" cy="275" r="9"/><circle cx="861" cy="250" r="9"/><circle cx="902" cy="226" r="9"/><circle cx="902" cy="325" r="9"/><circle cx="820" cy="375" r="9"/></g></g>
<g id="g10_69" class="R"><text x="934.2" y="943.7">10_69</text><g transform="translate(547 912) scale(.35075 .33333)"><path d="M1146 131L1157 203L1224 198M1157 203L1120 250L1083 298L1048 155M1083 298L1003 250M1083 298L1224 303M1083 298L1048 346M1083 298L1146 370"/><circle cx="1146" cy="131" r="11"/><circle cx="1157" cy="203" r="11"/><circle cx="1224" cy="198" r="11"/><circle cx="1120" cy="250" r="11"/><circle cx="1083" cy="298" r="11"/><circle cx="1048" cy="155" r="11"/><circle cx="1003" cy="250" r="11"/><circle cx="1224" cy="303" r="11"/><circle cx="1048" cy="346" r="11"/><circle cx="1146" cy="370" r="11"/></g></g>
<g id="g10_70" class="B"><text x="1044.4" y="943.7">10_70</text><g transform="translate(547 912) scale(.35075 .33333)"><path d="M1392 127L1408 178L1452 227L1517 214M1452 227L1437 275L1340 275M1437 275L1452 323L1517 336M1452 323L1408 373"/><circle cx="1392" cy="127" r="11"/><circle cx="1408" cy="178" r="11"/><circle cx="1452" cy="227" r="11"/><circle cx="1517" cy="214" r="11"/><circle cx="1437" cy="275" r="11"/><circle cx="1388" cy="275" r="11"/><circle cx="1340" cy="275" r="11"/><circle cx="1452" cy="323" r="11"/><circle cx="1517" cy="336" r="11"/><circle cx="1408" cy="373" r="11"/></g></g>
<g id="g10_71" class="B"><text x="52.6" y="1106">10_71</text><g transform="translate(0 912) scale(.35075 .33333)"><path d="M78 633L117 675L157 717L197 675L237 633M157 717V777L78 800L39 845M157 777L237 800L277 845"/><circle cx="78" cy="633" r="11"/><circle cx="117" cy="675" r="11"/><circle cx="157" cy="717" r="11"/><circle cx="197" cy="675" r="11"/><circle cx="237" cy="633" r="11"/><circle cx="157" cy="777" r="11"/><circle cx="78" cy="800" r="11"/><circle cx="39" cy="845" r="11"/><circle cx="237" cy="800" r="11"/><circle cx="277" cy="845" r="11"/></g></g>
<g id="g10_72" class="K"><text x="162.8" y="1106">10_72</text><g transform="translate(0 912) scale(.35075 .33333)"><path d="M406 640L443 690L506 617M443 690L363 740M443 690L480 740L531 712M480 740L491 797L583 792M491 797L406 835M491 797L506 858"/><circle cx="406" cy="640" r="9"/><circle cx="443" cy="690" r="9"/><circle cx="506" cy="617" r="9"/><circle cx="363" cy="740" r="9"/><circle cx="480" cy="740" r="9"/><circle cx="531" cy="712" r="9"/><circle cx="491" cy="797" r="9"/><circle cx="583" cy="792" r="9"/><circle cx="406" cy="835" r="9"/><circle cx="506" cy="858" r="9"/></g></g>
<g id="g10_73" class="B"><text x="273" y="1106">10_73</text><g transform="translate(0 912) scale(.35075 .33333)"><path d="M812 619L812 679L811 740L859 709M811 740L783 790L908 797M783 790L812 858M783 790L700 739L665 648M700 739L665 828"/><circle cx="812" cy="619" r="11"/><circle cx="812" cy="679" r="11"/><circle cx="811" cy="740" r="11"/><circle cx="859" cy="709" r="11"/><circle cx="665" cy="648" r="11"/><circle cx="700" cy="739" r="11"/><circle cx="783" cy="790" r="11"/><circle cx="908" cy="797" r="11"/><circle cx="665" cy="828" r="11"/><circle cx="812" cy="858" r="11"/></g></g>
<g id="g10_74" class="B"><text x="383.2" y="1106">10_74</text><g transform="translate(0 912) scale(.35075 .33333)"><path d="M1074 615L1045 688L988 739M1045 688L1078 764L1113 740L1147 713L1181 688M1078 764L1137 821L1214 816M1137 821L1074 862"/><circle cx="1074" cy="615" r="11"/><circle cx="1045" cy="688" r="11"/><circle cx="988" cy="739" r="11"/><circle cx="1078" cy="764" r="11"/><circle cx="1113" cy="740" r="11"/><circle cx="1147" cy="713" r="11"/><circle cx="1181" cy="688" r="11"/><circle cx="1137" cy="821" r="11"/><circle cx="1214" cy="816" r="11"/><circle cx="1074" cy="862" r="11"/></g></g>
<g id="g10_75" class="K"><text x="493.4" y="1106">10_75</text><g transform="translate(0 912) scale(.35075 .33333)"><path d="M1348 641L1408 679L1446 617M1408 679L1419 740L1473 712M1419 740L1408 797L1304 739M1408 797L1525 792M1408 797L1348 834M1408 797L1446 858"/><circle cx="1348" cy="641" r="9"/><circle cx="1408" cy="679" r="9"/><circle cx="1446" cy="617" r="9"/><circle cx="1419" cy="740" r="9"/><circle cx="1473" cy="712" r="9"/><circle cx="1408" cy="797" r="9"/><circle cx="1304" cy="739" r="9"/><circle cx="1525" cy="792" r="9"/><circle cx="1348" cy="834" r="9"/><circle cx="1446" cy="858" r="9"/></g></g>
<g id="g10_76" class="B"><text x="603.6" y="1106">10_76</text><g transform="translate(547 912) scale(.35075 .33333)"><path d="M125 627L142 683L48 740M142 683L249 668L294 636M142 683L159 740L142 795L125 851M159 740L205 773L249 807"/><circle cx="125" cy="627" r="11"/><circle cx="142" cy="683" r="11"/><circle cx="48" cy="740" r="11"/><circle cx="249" cy="668" r="11"/><circle cx="294" cy="636" r="11"/><circle cx="159" cy="740" r="11"/><circle cx="142" cy="795" r="11"/><circle cx="125" cy="851" r="11"/><circle cx="205" cy="773" r="11"/><circle cx="249" cy="807" r="11"/></g></g>
<g id="g10_77" class="B"><text x="713.8" y="1106">10_77</text><g transform="translate(547 912) scale(.35075 .33333)"><path d="M455 625L423 705L360 762M423 705L459 733L571 705L608 677M459 733L497 762L535 790L572 818M459 733L469 853"/><circle cx="455" cy="625" r="11"/><circle cx="423" cy="705" r="11"/><circle cx="360" cy="762" r="11"/><circle cx="459" cy="733" r="11"/><circle cx="571" cy="705" r="11"/><circle cx="608" cy="677" r="11"/><circle cx="497" cy="762" r="11"/><circle cx="535" cy="790" r="11"/><circle cx="572" cy="818" r="11"/><circle cx="469" cy="853" r="11"/></g></g>
<g id="g10_78" class="K"><text x="824" y="1106">10_78</text><g transform="translate(547 912) scale(.35075 .33333)"><path d="M820 617L773 679L699 689M773 679L779 789L739 812M779 789L820 764L861 739L901 714M779 789L901 812M779 789L820 860"/><circle cx="820" cy="617" r="9"/><circle cx="773" cy="679" r="9"/><circle cx="699" cy="689" r="9"/><circle cx="779" cy="789" r="9"/><circle cx="739" cy="812" r="9"/><circle cx="820" cy="764" r="9"/><circle cx="861" cy="739" r="9"/><circle cx="901" cy="714" r="9"/><circle cx="901" cy="812" r="9"/><circle cx="820" cy="860" r="9"/></g></g>
<g id="g10_79" class="B"><text x="934.2" y="1106">10_79</text><g transform="translate(547 912) scale(.35075 .33333)"><path d="M1118 613L1133 664L1148 714L1187 683M1148 714L1133 764L1050 714L1001 714M1133 764L1227 774M1133 764L1118 814L1103 862"/><circle cx="1118" cy="613" r="11"/><circle cx="1133" cy="664" r="11"/><circle cx="1148" cy="714" r="11"/><circle cx="1187" cy="683" r="11"/><circle cx="1050" cy="714" r="11"/><circle cx="1001" cy="714" r="11"/><circle cx="1133" cy="764" r="11"/><circle cx="1227" cy="774" r="11"/><circle cx="1118" cy="814" r="11"/><circle cx="1103" cy="862" r="11"/></g></g>
<g id="g10_80" class="B"><text x="1044.4" y="1106">10_80</text><g transform="translate(547 912) scale(.35075 .33333)"><path d="M1307 615L1357 664L1403 714L1449 764L1495 813L1542 861M1495 615L1449 664L1403 714L1357 764L1307 813"/><circle cx="1307" cy="615" r="11"/><circle cx="1357" cy="664" r="11"/><circle cx="1403" cy="714" r="11"/><circle cx="1449" cy="664" r="11"/><circle cx="1495" cy="615" r="11"/><circle cx="1357" cy="764" r="11"/><circle cx="1307" cy="813" r="11"/><circle cx="1449" cy="764" r="11"/><circle cx="1495" cy="813" r="11"/><circle cx="1542" cy="861" r="11"/></g></g>
<g id="g10_81" class="K"><text x="52.6" y="1267.3">10_81</text><g transform="translate(0 1240) scale(.35075 .33333)"><path d="M177 115L177 159L108 242L72 221M108 242L72 348M108 242L142 305L177 284L211 263M142 305L246 327M142 305L177 370"/><circle cx="177" cy="115" r="9"/><circle cx="177" cy="159" r="9"/><circle cx="108" cy="242" r="9"/><circle cx="72" cy="221" r="9"/><circle cx="72" cy="348" r="9"/><circle cx="142" cy="305" r="9"/><circle cx="177" cy="284" r="9"/><circle cx="211" cy="263" r="9"/><circle cx="246" cy="327" r="9"/><circle cx="177" cy="370" r="9"/></g></g>
<g id="g10_82" class="B"><text x="162.8" y="1267.3">10_82</text><g transform="translate(0 1240) scale(.35075 .33333)"><path d="M474 122L445 190L375 184M445 190L474 242L522 212L571 183M474 242V362M375 302H571"/><circle cx="474" cy="122" r="11"/><circle cx="445" cy="190" r="11"/><circle cx="375" cy="184" r="11"/><circle cx="474" cy="242" r="11"/><circle cx="522" cy="212" r="11"/><circle cx="571" cy="183" r="11"/><circle cx="474" cy="302" r="11"/><circle cx="375" cy="302" r="11"/><circle cx="571" cy="302" r="11"/><circle cx="474" cy="362" r="11"/></g></g>
<g id="g10_83" class="K"><text x="273" y="1267.3">10_83</text><g transform="translate(0 1240) scale(.35075 .33333)"><path d="M812 124V243L859 213M812 243L783 294L714 184L666 153M783 294L714 302M783 294L908 302M783 294L812 360"/><circle cx="812" cy="124" r="9"/><circle cx="812" cy="184" r="9"/><circle cx="812" cy="243" r="9"/><circle cx="859" cy="213" r="9"/><circle cx="666" cy="153" r="9"/><circle cx="714" cy="184" r="9"/><circle cx="783" cy="294" r="9"/><circle cx="714" cy="302" r="9"/><circle cx="908" cy="302" r="9"/><circle cx="812" cy="360" r="9"/></g></g>
<g id="g10_84" class="K"><text x="383.2" y="1267.3">10_84</text><g transform="translate(0 1240) scale(.35075 .33333)"><path d="M1046 120L1060 170L1050 236L993 267M1050 236L1168 207L1210 177M1050 236L1091 267L1130 297L1169 327M1050 236L1060 365"/><circle cx="1046" cy="120" r="9"/><circle cx="1060" cy="170" r="9"/><circle cx="1050" cy="236" r="9"/><circle cx="993" cy="267" r="9"/><circle cx="1168" cy="207" r="9"/><circle cx="1210" cy="177" r="9"/><circle cx="1091" cy="267" r="9"/><circle cx="1130" cy="297" r="9"/><circle cx="1169" cy="327" r="9"/><circle cx="1060" cy="365" r="9"/></g></g>
<g id="g10_85" class="K"><text x="493.4" y="1267.3">10_85</text><g transform="translate(0 1240) scale(.35075 .33333)"><path d="M1343 153L1357 257L1296 257M1357 257L1343 360M1357 257L1421 257L1460 205L1449 127M1460 205L1535 200M1421 257L1477 286M1421 257L1435 320"/><circle cx="1343" cy="153" r="9"/><circle cx="1357" cy="257" r="9"/><circle cx="1296" cy="257" r="9"/><circle cx="1343" cy="360" r="9"/><circle cx="1421" cy="257" r="9"/><circle cx="1460" cy="205" r="9"/><circle cx="1449" cy="127" r="9"/><circle cx="1535" cy="200" r="9"/><circle cx="1477" cy="286" r="9"/><circle cx="1435" cy="320" r="9"/></g></g>
<g id="g10_86" class="K"><text x="603.6" y="1267.3">10_86</text><g transform="translate(547 1240) scale(.35075 .33333)"><path d="M147 124L96 213L48 183M96 213L48 302M96 213L147 362M96 213L244 184L293 153M96 213L147 241L196 271L244 302"/><circle cx="147" cy="124" r="9"/><circle cx="96" cy="213" r="9"/><circle cx="48" cy="183" r="9"/><circle cx="48" cy="302" r="9"/><circle cx="147" cy="362" r="9"/><circle cx="244" cy="184" r="9"/><circle cx="293" cy="153" r="9"/><circle cx="147" cy="241" r="9"/><circle cx="196" cy="271" r="9"/><circle cx="244" cy="302" r="9"/></g></g>
<g id="g10_87" class="K"><text x="713.8" y="1267.3">10_87</text><g transform="translate(547 1240) scale(.35075 .33333)"><path d="M486 122V243L535 213L584 183M486 243L457 294L386 183M457 294L386 302M457 294L584 302M457 294L486 362"/><circle cx="486" cy="122" r="9"/><circle cx="486" cy="183" r="9"/><circle cx="486" cy="243" r="9"/><circle cx="535" cy="213" r="9"/><circle cx="584" cy="183" r="9"/><circle cx="386" cy="183" r="9"/><circle cx="457" cy="294" r="9"/><circle cx="386" cy="302" r="9"/><circle cx="584" cy="302" r="9"/><circle cx="486" cy="362" r="9"/></g></g>
<g id="g10_88" class="K"><text x="824" y="1267.3">10_88</text><g transform="translate(547 1240) scale(.35075 .33333)"><path d="M832 123L820 184L806 243L859 216M806 243L768 292L734 146M768 292L690 242M768 292L911 296M768 292L734 338M768 292L832 362"/><circle cx="832" cy="123" r="9"/><circle cx="820" cy="184" r="9"/><circle cx="806" cy="243" r="9"/><circle cx="859" cy="216" r="9"/><circle cx="734" cy="146" r="9"/><circle cx="690" cy="242" r="9"/><circle cx="768" cy="292" r="9"/><circle cx="911" cy="296" r="9"/><circle cx="734" cy="338" r="9"/><circle cx="832" cy="362" r="9"/></g></g>
<g id="g10_89" class="K"><text x="934.2" y="1267.3">10_89</text><g transform="translate(547 1240) scale(.35075 .33333)"><path d="M1146 123L1068 268L1048 147M1068 268L1004 242M1068 268L1122 242L1172 216L1222 190M1068 268L1222 296M1068 268L1048 338M1068 268L1146 360"/><circle cx="1146" cy="123" r="9"/><circle cx="1048" cy="147" r="9"/><circle cx="1004" cy="242" r="9"/><circle cx="1068" cy="268" r="9"/><circle cx="1122" cy="242" r="9"/><circle cx="1172" cy="216" r="9"/><circle cx="1222" cy="190" r="9"/><circle cx="1222" cy="296" r="9"/><circle cx="1048" cy="338" r="9"/><circle cx="1146" cy="360" r="9"/></g></g>
<g id="g10_90" class="K"><text x="1044.4" y="1267.3">10_90</text><g transform="translate(547 1240) scale(.35075 .33333)"><path d="M1486 118L1376 214L1372 146M1376 214L1320 257M1376 214L1372 368M1376 214L1414 276L1454 257L1495 236M1414 276L1535 297M1414 276L1474 348"/><circle cx="1486" cy="118" r="9"/><circle cx="1372" cy="146" r="9"/><circle cx="1376" cy="214" r="9"/><circle cx="1320" cy="257" r="9"/><circle cx="1372" cy="368" r="9"/><circle cx="1414" cy="276" r="9"/><circle cx="1454" cy="257" r="9"/><circle cx="1495" cy="236" r="9"/><circle cx="1535" cy="297" r="9"/><circle cx="1474" cy="348" r="9"/></g></g>
<g id="g10_91" class="K"><text x="52.6" y="1431">10_91</text><g transform="translate(0 1240) scale(.35075 .33333)"><path d="M177 603L177 645L142 750L177 728L211 707M142 750L246 771M142 750L108 772L72 664M108 772L72 793M108 772L177 856"/><circle cx="177" cy="603" r="9"/><circle cx="177" cy="645" r="9"/><circle cx="142" cy="750" r="9"/><circle cx="177" cy="728" r="9"/><circle cx="211" cy="707" r="9"/><circle cx="246" cy="771" r="9"/><circle cx="108" cy="772" r="9"/><circle cx="72" cy="664" r="9"/><circle cx="72" cy="793" r="9"/><circle cx="177" cy="856" r="9"/></g></g>
<g id="g10_92" class="B"><text x="162.8" y="1431">10_92</text><g transform="translate(0 1240) scale(.35075 .33333)"><path d="M474 610L502 678L571 670M502 678L474 730L502 782L571 790M502 782L474 850M375 670L418 730L375 790M418 730H474"/><circle cx="474" cy="610" r="11"/><circle cx="502" cy="678" r="11"/><circle cx="571" cy="670" r="11"/><circle cx="375" cy="670" r="11"/><circle cx="418" cy="730" r="11"/><circle cx="474" cy="730" r="11"/><circle cx="375" cy="790" r="11"/><circle cx="502" cy="782" r="11"/><circle cx="571" cy="790" r="11"/><circle cx="474" cy="850" r="11"/></g></g>
<g id="g10_93" class="B"><text x="273" y="1431">10_93</text><g transform="translate(0 1240) scale(.35075 .33333)"><path d="M803 603L765 657L701 664M765 657L769 750L803 729L840 708M769 750L875 772M769 750L765 802L701 794M765 802L803 856"/><circle cx="803" cy="603" r="11"/><circle cx="765" cy="657" r="11"/><circle cx="701" cy="664" r="11"/><circle cx="769" cy="750" r="11"/><circle cx="803" cy="729" r="11"/><circle cx="840" cy="708" r="11"/><circle cx="875" cy="772" r="11"/><circle cx="765" cy="802" r="11"/><circle cx="701" cy="794" r="11"/><circle cx="803" cy="856" r="11"/></g></g>
<g id="g10_94" class="K"><text x="383.2" y="1431">10_94</text><g transform="translate(0 1240) scale(.35075 .33333)"><path d="M1118 607L1146 682L1221 694M1146 682L1050 722L1020 682M1050 722L980 767M1050 722L1020 851M1050 722L1084 767L1130 790M1084 767L1095 818"/><circle cx="1118" cy="607" r="9"/><circle cx="1146" cy="682" r="9"/><circle cx="1221" cy="694" r="9"/><circle cx="1050" cy="722" r="9"/><circle cx="1020" cy="682" r="9"/><circle cx="980" cy="767" r="9"/><circle cx="1020" cy="851" r="9"/><circle cx="1084" cy="767" r="9"/><circle cx="1130" cy="790" r="9"/><circle cx="1095" cy="818" r="9"/></g></g>
<g id="g10_95" class="K"><text x="493.4" y="1431">10_95</text><g transform="translate(0 1240) scale(.35075 .33333)"><path d="M1474 605L1382 675L1354 634M1382 675L1299 753M1382 675L1399 775L1442 753L1486 733M1399 775L1528 797M1399 775L1383 832M1399 775L1464 853"/><circle cx="1474" cy="605" r="9"/><circle cx="1382" cy="675" r="9"/><circle cx="1354" cy="634" r="9"/><circle cx="1299" cy="753" r="9"/><circle cx="1399" cy="775" r="9"/><circle cx="1442" cy="753" r="9"/><circle cx="1486" cy="733" r="9"/><circle cx="1528" cy="797" r="9"/><circle cx="1383" cy="832" r="9"/><circle cx="1464" cy="853" r="9"/></g></g>
<g id="g10_96" class="B"><text x="603.6" y="1431">10_96</text><g transform="translate(547 1240) scale(.35075 .33333)"><path d="M147 608L165 669L182 730L63 730M182 730L230 692L279 656M182 730L201 788L279 801M201 788L147 848"/><circle cx="147" cy="608" r="11"/><circle cx="165" cy="669" r="11"/><circle cx="182" cy="730" r="11"/><circle cx="123" cy="730" r="11"/><circle cx="63" cy="730" r="11"/><circle cx="230" cy="692" r="11"/><circle cx="279" cy="656" r="11"/><circle cx="201" cy="788" r="11"/><circle cx="279" cy="801" r="11"/><circle cx="147" cy="848" r="11"/></g></g>
<g id="g10_97" class="K"><text x="713.8" y="1431">10_97</text><g transform="translate(547 1240) scale(.35075 .33333)"><path d="M435 635L486 692L535 635M364 709L486 692L605 709M486 692V760L425 786M486 760L459 823M486 760L510 823M486 760L545 786"/><circle cx="435" cy="635" r="9"/><circle cx="486" cy="692" r="9"/><circle cx="535" cy="635" r="9"/><circle cx="364" cy="709" r="9"/><circle cx="605" cy="709" r="9"/><circle cx="486" cy="760" r="9"/><circle cx="425" cy="786" r="9"/><circle cx="459" cy="823" r="9"/><circle cx="510" cy="823" r="9"/><circle cx="545" cy="786" r="9"/></g></g>
<g id="g10_98" class="K"><text x="824" y="1431">10_98</text><g transform="translate(547 1240) scale(.35075 .33333)"><path d="M820 605L820 655L779 778L726 752L699 680M726 752L699 828M779 778L820 752L859 729M779 778L901 802M779 778L820 853"/><circle cx="820" cy="605" r="9"/><circle cx="820" cy="655" r="9"/><circle cx="779" cy="778" r="9"/><circle cx="726" cy="752" r="9"/><circle cx="699" cy="680" r="9"/><circle cx="699" cy="828" r="9"/><circle cx="820" cy="752" r="9"/><circle cx="859" cy="729" r="9"/><circle cx="901" cy="802" r="9"/><circle cx="820" cy="853" r="9"/></g></g>
<g id="g10_99" class="K"><text x="934.2" y="1431">10_99</text><g transform="translate(547 1240) scale(.35075 .33333)"><path d="M1066 634L1089 697L1162 634M994 709L1089 697L1235 709M1089 697L994 813M1089 697L1112 760L1172 786M1112 760L1089 823M1112 760L1138 823"/><circle cx="1066" cy="634" r="9"/><circle cx="1162" cy="634" r="9"/><circle cx="1089" cy="697" r="9"/><circle cx="994" cy="709" r="9"/><circle cx="1235" cy="709" r="9"/><circle cx="994" cy="813" r="9"/><circle cx="1112" cy="760" r="9"/><circle cx="1172" cy="786" r="9"/><circle cx="1089" cy="823" r="9"/><circle cx="1138" cy="823" r="9"/></g></g>
<g id="g10_100" class="K"><text x="1044.4" y="1431">10_100</text><g transform="translate(547 1240) scale(.35075 .33333)"><path d="M1464 605L1411 656L1343 634M1411 656L1389 775L1433 752L1472 729M1389 775L1337 752M1389 775L1519 797M1389 775L1373 832M1389 775L1454 853"/><circle cx="1464" cy="605" r="9"/><circle cx="1411" cy="656" r="9"/><circle cx="1343" cy="634" r="9"/><circle cx="1389" cy="775" r="9"/><circle cx="1433" cy="752" r="9"/><circle cx="1472" cy="729" r="9"/><circle cx="1337" cy="752" r="9"/><circle cx="1519" cy="797" r="9"/><circle cx="1373" cy="832" r="9"/><circle cx="1454" cy="853" r="9"/></g></g>
<g id="g10_101" class="K"><text x="52.6" y="1593.3">10_101</text><g transform="translate(0 1560) scale(.35075 .33333)"><path d="M115 138V377M48 208L115 212L271 208M205 137L115 212L48 306M115 212L160 256L215 282M160 256L182 317"/><circle cx="115" cy="138" r="9"/><circle cx="205" cy="137" r="9"/><circle cx="115" cy="212" r="9"/><circle cx="48" cy="208" r="9"/><circle cx="271" cy="208" r="9"/><circle cx="48" cy="306" r="9"/><circle cx="115" cy="377" r="9"/><circle cx="160" cy="256" r="9"/><circle cx="215" cy="282" r="9"/><circle cx="182" cy="317" r="9"/></g></g>
<g id="g10_102" class="B"><text x="162.8" y="1593.3">10_102</text><g transform="translate(0 1560) scale(.35075 .33333)"><path d="M463 132L476 175L468 285L419 258L377 258M468 285L503 258L536 230M468 285L570 308M468 285L476 340L463 383"/><circle cx="463" cy="132" r="11"/><circle cx="476" cy="175" r="11"/><circle cx="468" cy="285" r="11"/><circle cx="377" cy="258" r="11"/><circle cx="419" cy="258" r="11"/><circle cx="503" cy="258" r="11"/><circle cx="536" cy="230" r="11"/><circle cx="570" cy="308" r="11"/><circle cx="476" cy="340" r="11"/><circle cx="463" cy="383" r="11"/></g></g>
<g id="g10_103" class="K"><text x="273" y="1593.3">10_103</text><g transform="translate(0 1560) scale(.35075 .33333)"><path d="M808 133L808 184L768 305L725 233L685 208M768 305L806 282L847 258M768 305L889 330M768 305L725 330M768 305L808 380"/><circle cx="808" cy="133" r="9"/><circle cx="808" cy="184" r="9"/><circle cx="768" cy="305" r="9"/><circle cx="685" cy="208" r="9"/><circle cx="725" cy="233" r="9"/><circle cx="806" cy="282" r="9"/><circle cx="847" cy="258" r="9"/><circle cx="889" cy="330" r="9"/><circle cx="725" cy="330" r="9"/><circle cx="808" cy="380" r="9"/></g></g>
<g id="g10_104" class="K"><text x="383.2" y="1593.3">10_104</text><g transform="translate(0 1560) scale(.35075 .33333)"><path d="M1136 131L1126 181L1061 305L1045 202M1061 305L1012 280M1061 305L1102 282L1148 260M1061 305L1192 326M1061 305L1045 362M1061 305L1126 380"/><circle cx="1136" cy="131" r="9"/><circle cx="1126" cy="181" r="9"/><circle cx="1061" cy="305" r="9"/><circle cx="1045" cy="202" r="9"/><circle cx="1012" cy="280" r="9"/><circle cx="1102" cy="282" r="9"/><circle cx="1148" cy="260" r="9"/><circle cx="1192" cy="326" r="9"/><circle cx="1045" cy="362" r="9"/><circle cx="1126" cy="380" r="9"/></g></g>
<g id="g10_105" class="K"><text x="493.4" y="1593.3">10_105</text><g transform="translate(0 1560) scale(.35075 .33333)"><path d="M1367 135L1360 282L1460 135M1302 208L1360 282L1416 258L1465 232M1302 307L1360 282L1526 307M1367 377L1360 282L1460 377"/><circle cx="1367" cy="135" r="9"/><circle cx="1460" cy="135" r="9"/><circle cx="1302" cy="208" r="9"/><circle cx="1360" cy="282" r="9"/><circle cx="1416" cy="258" r="9"/><circle cx="1465" cy="232" r="9"/><circle cx="1302" cy="307" r="9"/><circle cx="1526" cy="307" r="9"/><circle cx="1367" cy="377" r="9"/><circle cx="1460" cy="377" r="9"/></g></g>
<g id="g10_106" class="K"><text x="603.6" y="1593.3">10_106</text><g transform="translate(0 1560) scale(.35075 .33333)"><path d="M1717 142L1730 258L1789 155M1649 182L1730 258L1838 216M1621 258L1730 258L1838 298M1661 331L1730 258L1789 358M1730 258L1717 370"/><circle cx="1730" cy="258" r="9"/><circle cx="1717" cy="142" r="9"/><circle cx="1789" cy="155" r="9"/><circle cx="1649" cy="182" r="9"/><circle cx="1838" cy="216" r="9"/><circle cx="1621" cy="258" r="9"/><circle cx="1838" cy="298" r="9"/><circle cx="1661" cy="331" r="9"/><circle cx="1789" cy="358" r="9"/><circle cx="1717" cy="370" r="9"/></g></g>
</svg>
